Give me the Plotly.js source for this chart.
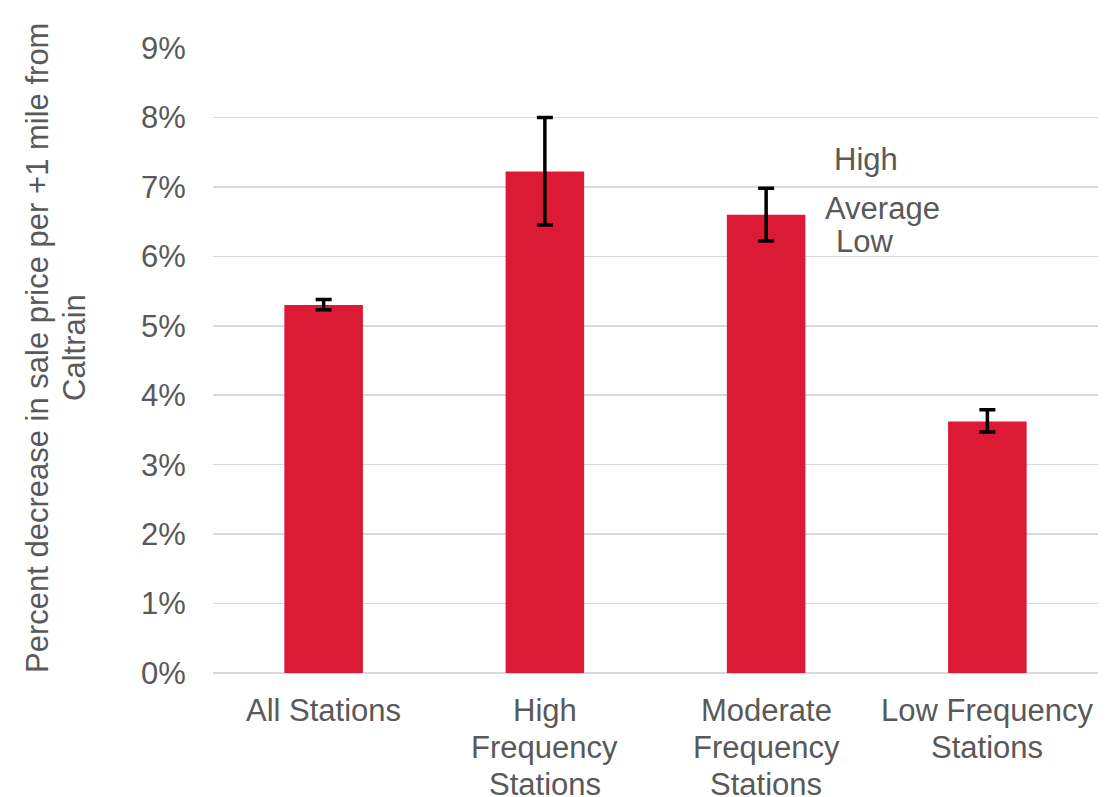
<!DOCTYPE html>
<html>
<head>
<meta charset="utf-8">
<script src="https://cdn.plot.ly/plotly-3.0.1.min.js"></script>
<style>html,body{margin:0;padding:0;background:#fff;}#chart{width:1120px;height:797px;}</style>
</head>
<body>
<div id="chart"></div>
<script>
const categories = ["All Stations", "High<br>Frequency<br>Stations", "Moderate<br>Frequency<br>Stations", "Low Frequency<br>Stations"];
const averages = [5.30, 7.22, 6.60, 3.62];
const highs = [5.38, 8.00, 6.98, 3.79];
const lows = [5.23, 6.45, 6.22, 3.47];
const yTickVals = [0, 1, 2, 3, 4, 5, 6, 7, 8, 9];
const yTickText = ["0%", "1%", "2%", "3%", "4%", "5%", "6%", "7%", "8%", "9%"];
const yTitleLines = ["Percent decrease in sale price per +1 mile from", "Caltrain"];
const legendLabels = ["High", "Average", "Low"];

const gray = "#595959";
const fontFamily = "Liberation Sans, Arial, sans-serif";
const fs = 31;
const lineGap = 37;

const trace = {
  type: "bar",
  x: categories,
  y: averages,
  width: 0.355,
  marker: { color: "#DC1A35" },
  error_y: {
    type: "data",
    symmetric: false,
    array: highs.map((h, i) => h - averages[i]),
    arrayminus: averages.map((a, i) => a - lows[i]),
    color: "#000000",
    thickness: 3.5,
    width: 8
  },
  hoverinfo: "skip"
};

const annotations = [];
// category labels, one annotation per line with tighter line spacing
categories.forEach((cat, i) => {
  cat.split("<br>").forEach((line, j) => {
    annotations.push({
      text: line, xref: "x", yref: "paper", x: cat, y: 0,
      xanchor: "center", yanchor: "middle", yshift: -37 - j * lineGap,
      showarrow: false, font: { family: fontFamily, size: fs, color: gray }
    });
  });
});
// y-axis title, two rotated lines
yTitleLines.forEach((line, j) => {
  annotations.push({
    text: line, xref: "paper", yref: "paper", x: 0, y: 0.52,
    xanchor: "center", yanchor: "middle", xshift: -176 + j * lineGap,
    textangle: -90, showarrow: false, font: { family: fontFamily, size: fs, color: gray }
  });
});
// High / Average / Low labels
const legendPos = [[0.738, 0.821], [0.757, 0.744], [0.7356, 0.691]];
legendLabels.forEach((lab, i) => {
  annotations.push({
    text: lab, xref: "paper", yref: "paper", x: legendPos[i][0], y: legendPos[i][1],
    xanchor: "center", yanchor: "middle", showarrow: false,
    font: { family: fontFamily, size: fs, color: gray }
  });
});

const layout = {
  width: 1120,
  height: 797,
  margin: { l: 213, r: 22, t: 48, b: 124 },
  paper_bgcolor: "#ffffff",
  plot_bgcolor: "#ffffff",
  font: { family: fontFamily, size: fs, color: gray },
  showlegend: false,
  xaxis: {
    type: "category",
    range: [-0.5, 3.5],
    showgrid: false,
    showline: false,
    zeroline: false,
    showticklabels: false,
    ticks: ""
  },
  yaxis: {
    range: [0, 9],
    tickvals: yTickVals,
    ticktext: yTickText,
    showgrid: true,
    gridcolor: "#d9d9d9",
    gridwidth: 1.5,
    zeroline: true,
    zerolinecolor: "#d9d9d9",
    zerolinewidth: 1.5,
    showline: false,
    ticks: "outside",
    ticklen: 20,
    tickcolor: "rgba(0,0,0,0)",
    tickfont: { family: fontFamily, size: fs, color: gray }
  },
  annotations: annotations
};

Plotly.newPlot("chart", [trace], layout, { displayModeBar: false, staticPlot: true });
</script>
</body>
</html>
